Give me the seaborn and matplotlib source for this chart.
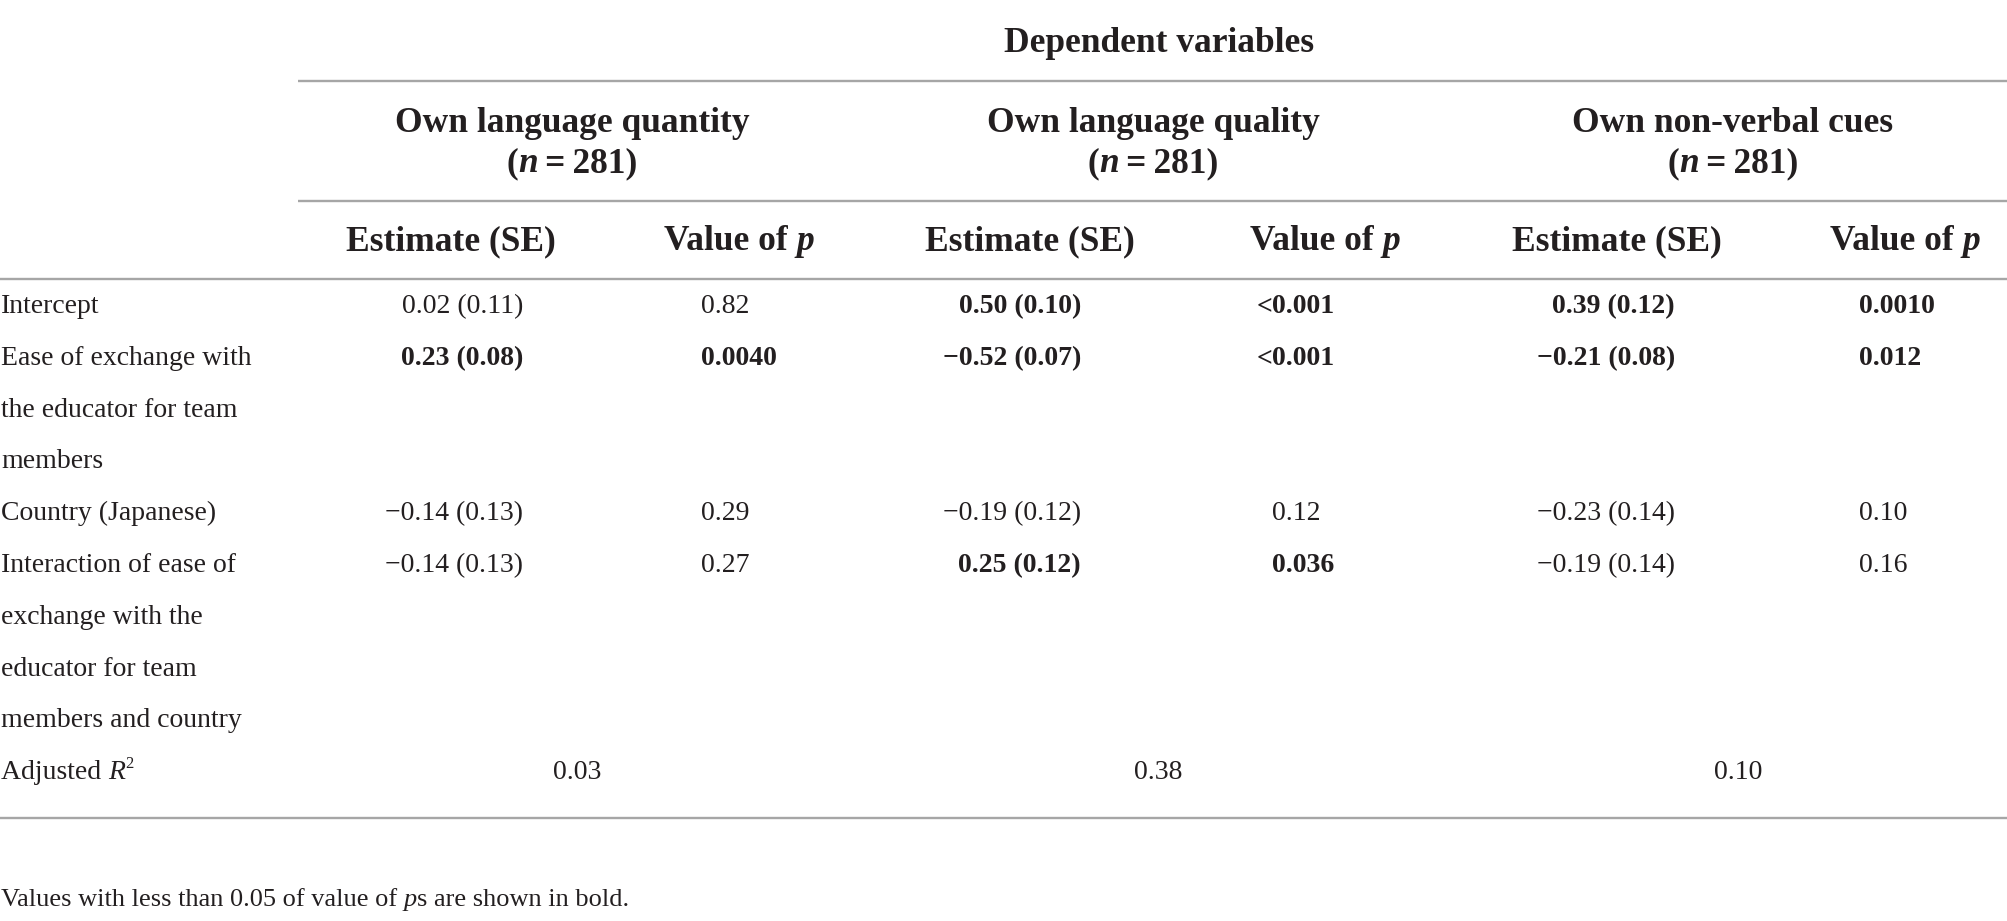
import matplotlib
matplotlib.use("Agg")
import matplotlib.pyplot as plt
import seaborn as sns
import pandas as pd

# ---------------- data ----------------
row_labels = [
    ["Intercept"],
    ["Ease of exchange with", "the educator for team", "members"],
    ["Country (Japanese)"],
    ["Interaction of ease of", "exchange with the", "educator for team", "members and country"],
]
outcomes = ["Own language quantity", "Own language quality", "Own non-verbal cues"]
sample_sizes = [281, 281, 281]
quantity_est = ["0.02 (0.11)", "0.23 (0.08)", "\u22120.14 (0.13)", "\u22120.14 (0.13)"]
quantity_p = ["0.82", "0.0040", "0.29", "0.27"]
quality_est = ["0.50 (0.10)", "\u22120.52 (0.07)", "\u22120.19 (0.12)", "0.25 (0.12)"]
quality_p = ["<0.001", "<0.001", "0.12", "0.036"]
nonverbal_est = ["0.39 (0.12)", "\u22120.21 (0.08)", "\u22120.23 (0.14)", "\u22120.19 (0.14)"]
nonverbal_p = ["0.0010", "0.012", "0.10", "0.16"]
adjusted_r2 = ["0.03", "0.38", "0.10"]
alpha = 0.05

# ---------------- style / layout ----------------
sns.set_theme(style="white")
plt.rcParams["font.family"] = ["Liberation Serif", "DejaVu Serif"]

W, H = 2008, 921
TEXT = "#231f20"
RULE = "#a6a6a6"
BODY = 20
HEAD = 25.5
FOOT = 19

group_cx = [572, 1153, 1733]
est_right = [523, 1081, 1675]
p_left = [701, 1272, 1859]
est_hdr_cx = [451, 1030, 1617]
p_hdr_cx = [739, 1325, 1905]
line_step = 51.8
first_base = 313

fig = plt.figure(figsize=(W / 100, H / 100), dpi=100)
ax = fig.add_axes([0, 0, 1, 1])
ax.set_xlim(0, W)
ax.set_ylim(H, 0)
ax.set_axis_off()
sns.despine(ax=ax, left=True, bottom=True)
renderer = fig.canvas.get_renderer()


def _w(s, **kw):
    t = ax.text(0, 0, s, **kw)
    w = t.get_window_extent(renderer).width
    t.remove()
    return w


def seg_width(s, **kw):
    return _w(s + "|", **kw) - _w("|", **kw)


def rich(x, y, segs, ha="left", size=BODY):
    items = []
    for seg in segs:
        text = seg[0]
        opts = seg[1] if len(seg) > 1 else {}
        kw = dict(fontsize=opts.get("size", size),
                  fontweight=opts.get("weight", "normal"),
                  fontstyle=opts.get("style", "normal"))
        items.append((text, kw, opts.get("dy", 0)))
    widths = [seg_width(t, **kw) for t, kw, _ in items]
    total = sum(widths)
    if ha == "left":
        x0 = x
    elif ha == "center":
        x0 = x - total / 2
    else:
        x0 = x - total
    for (t, kw, dy), w in zip(items, widths):
        ax.text(x0, y + dy, t, ha="left", va="baseline", color=TEXT, **kw)
        x0 += w


def rule(x0, x1, y):
    ax.plot([x0, x1], [y, y], color=RULE, lw=1.7, solid_capstyle="butt")


# ---------------- header ----------------
B = {"weight": "bold"}
BI = {"weight": "bold", "style": "italic"}
rich(1159, 52, [("Dependent variables", B)], ha="center", size=HEAD)
rule(298, W, 81)
for g, name in enumerate(outcomes):
    rich(group_cx[g], 132, [(name, B)], ha="center", size=HEAD)
    rich(group_cx[g], 172, [("(", B), ("n", BI), ("\u2009=\u2009" + str(sample_sizes[g]) + ")", B)],
         ha="center", size=HEAD)
rule(298, W, 201)
for g in range(3):
    rich(est_hdr_cx[g], 250, [("Estimate (SE)", B)], ha="center", size=HEAD)
    rich(p_hdr_cx[g], 250, [("Value of ", B), ("p", BI)], ha="center", size=HEAD)
rule(0, W, 279)

# ---------------- body ----------------
est_cols = [quantity_est, quality_est, nonverbal_est]
p_cols = [quantity_p, quality_p, nonverbal_p]
line_idx = 0
for r, label_lines in enumerate(row_labels):
    base = first_base + line_idx * line_step
    for k, ln in enumerate(label_lines):
        rich(1, base + k * line_step, [(ln,)])
    for g in range(3):
        p = p_cols[g][r]
        wt = "bold" if float(p.lstrip("<")) < alpha else "normal"
        rich(est_right[g], base, [(est_cols[g][r], {"weight": wt})], ha="right")
        if p.startswith("<"):
            rich(p_left[g], base, [("<", {"weight": wt})], ha="right")
            rich(p_left[g], base, [(p[1:], {"weight": wt})])
        else:
            rich(p_left[g], base, [(p, {"weight": wt})])
    line_idx += len(label_lines)

base = first_base + line_idx * line_step
rich(1, base, [("Adjusted ",), ("R", {"style": "italic"}), ("2", {"size": 12, "dy": -11})])
for g in range(3):
    rich(group_cx[g] + 5, base, [(adjusted_r2[g],)], ha="center")
rule(0, W, 818)

# ---------------- footnote ----------------
rich(1, 906, [("Values with less than 0.05 of value of ",), ("p", {"style": "italic"}),
              ("s are shown in bold.",)], size=FOOT)

fig.savefig("out.png", dpi=100, facecolor="white")
